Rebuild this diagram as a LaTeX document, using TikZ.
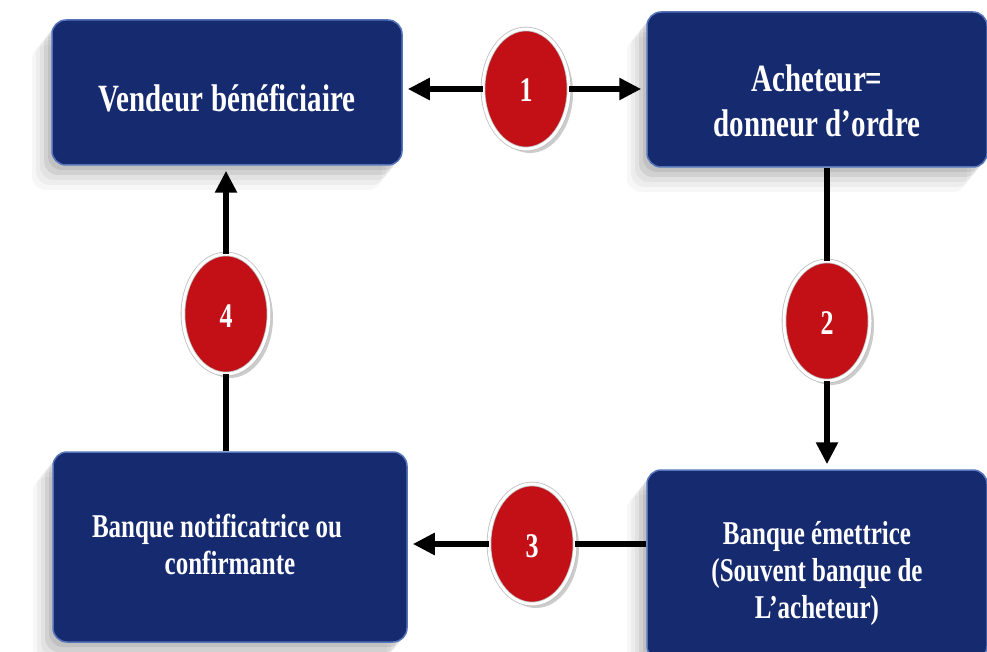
\documentclass[tikz,border=0pt]{standalone}
\usepackage{fontspec}
\setmainfont{Liberation Serif}
\usetikzlibrary{arrows.meta,shadows,shapes.geometric,positioning}

\definecolor{marine}{RGB}{22,42,112}
\definecolor{liseret}{RGB}{86,116,186}
\definecolor{pastille}{RGB}{194,16,22}
\definecolor{anneau}{RGB}{190,190,190}

% une ligne de texte etiree, sans hauteur, abaissee de #1
\newcommand{\ligne}[2][0pt]{\raisebox{-#1}[0pt][0pt]{\scalebox{1}[1.33]{#2}}}

\tikzset{
  ombre/.style={drop shadow={shadow xshift=-4pt,shadow yshift=-5pt,opacity=.08,fill=black},
                drop shadow={shadow xshift=-8pt,shadow yshift=-10pt,opacity=.07,fill=black},
                drop shadow={shadow xshift=-12pt,shadow yshift=-15pt,opacity=.05,fill=black},
                drop shadow={shadow xshift=-16pt,shadow yshift=-20pt,opacity=.04,fill=black},
                drop shadow={shadow xshift=-20pt,shadow yshift=-25pt,opacity=.03,fill=black}},
  bloc/.style={rectangle, rounded corners=14pt, fill=marine, draw=liseret, line width=1.5pt,
               text=white, align=center, inner sep=0pt, ombre,
               font=\bfseries\fontsize{29}{45}\selectfont},
  petit/.style={font=\bfseries\fontsize{25}{37}\selectfont},
  etape/.style={ellipse, minimum width=86pt, minimum height=120pt, inner sep=0pt,
                fill=pastille, draw=anneau, line width=.8pt,
                double=white, double distance=3pt, text=white,
                font=\bfseries\fontsize{26}{30}\selectfont,
                drop shadow={shadow xshift=4pt,shadow yshift=-4pt,opacity=.2,fill=black}},
  trait/.style={line width=5.5pt},
  fleche/.style={trait, shorten >=5pt, -{Triangle[length=22pt,width=21pt]}},
}

\begin{document}
\begin{tikzpicture}[x=1pt,y=-1pt]
\useasboundingbox (0,0) rectangle (987,652);
\clip (0,0) rectangle (987,652);

% les quatre parties
\node[bloc, minimum width=350pt, minimum height=145pt] (vendeur) at (227,92.5)
  {\ligne[19.5pt]{Vendeur bénéficiaire}};
\node[bloc, minimum width=340pt, minimum height=155pt] (acheteur) at (817,89.5)
  {\ligne[25pt]{Acheteur=}\\\ligne[25pt]{donneur d’ordre}};
\node[bloc, petit, minimum width=354pt, minimum height=190pt] (notif) at (230,547)
  {\ligne[9pt]{Banque notificatrice ou\hspace{26pt}}\\\ligne[9pt]{confirmante}};
\node[bloc, petit, minimum width=340pt, minimum height=190pt] (emettrice) at (817,565)
  {\ligne[16.5pt]{Banque émettrice}\\\ligne[16.5pt]{(Souvent banque de}\\\ligne[16.5pt]{L’acheteur)}};

% les etapes
\node[etape] (e1) at (526,89) {\ligne[13pt]{1}};
\node[etape] (e2) at (827,321) {\ligne[13pt]{2}};
\node[etape] (e3) at (532,544) {\ligne[13pt]{3}};
\node[etape] (e4) at (226,314) {\ligne[13pt]{4}};

% 1
\draw[fleche] (e1) -- (e1 -| vendeur.east);
\draw[fleche] (e1) -- (e1 -| acheteur.west);
% 2
\draw[trait] (e2 |- acheteur.south) -- (e2);
\draw[fleche] (e2) -- (e2 |- emettrice.north);
% 3
\draw[trait] (e3 -| emettrice.west) -- (e3);
\draw[fleche] (e3) -- (e3 -| notif.east);
% 4
\draw[trait] (e4 |- notif.north) -- (e4);
\draw[fleche] (e4) -- (e4 |- vendeur.south);
\end{tikzpicture}
\end{document}
